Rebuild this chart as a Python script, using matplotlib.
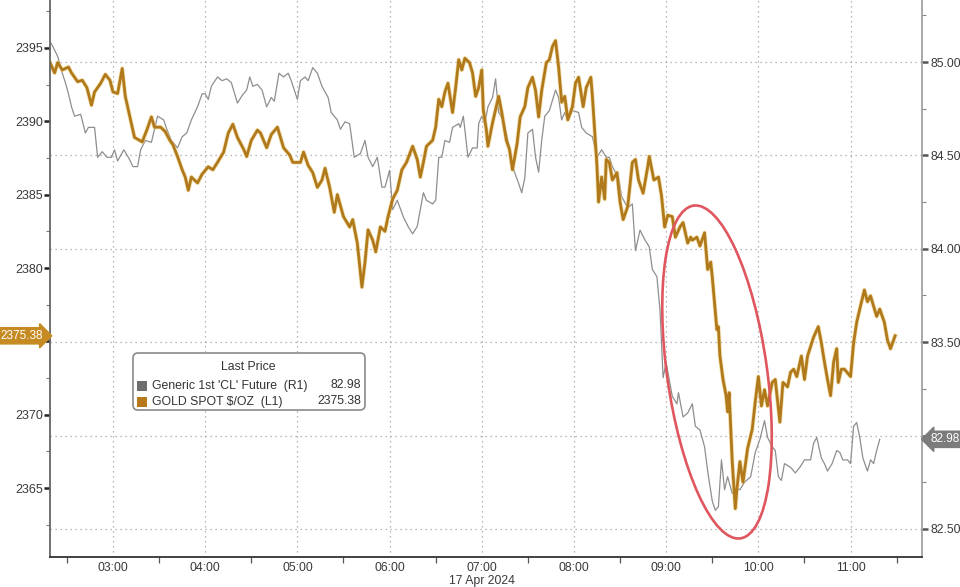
import matplotlib
matplotlib.use("Agg")
import matplotlib.pyplot as plt
import matplotlib.dates as mdates
import matplotlib.patheffects as pe
from matplotlib.patches import Ellipse, Rectangle, FancyBboxPatch
import pandas as pd

DAY = "2024-04-17 "

gold_times = [
    "02:19", "02:22", "02:24", "02:27", "02:31", "02:33", "02:37", "02:40", "02:43", "02:46",
    "02:48", "02:52", "02:55", "02:58", "03:00", "03:03", "03:06", "03:08", "03:11", "03:14",
    "03:19", "03:22", "03:25", "03:27", "03:31", "03:34", "03:37", "03:39", "03:42", "03:45",
    "03:47", "03:49", "03:51", "03:55", "03:58", "04:02", "04:05", "04:08", "04:12", "04:15",
    "04:18", "04:21", "04:25", "04:27", "04:30", "04:34", "04:36",
    "04:40", "04:43", "04:47", "04:51", "04:55", "04:57", "05:02", "05:04", "05:07", "05:10",
    "05:13", "05:16", "05:18", "05:21", "05:24", "05:26", "05:30", "05:34", "05:36", "05:39",
    "05:42", "05:44", "05:46", "05:49", "05:51", "05:54", "05:57", "05:59", "06:02", "06:05",
    "06:08", "06:11", "06:15", "06:18", "06:20", "06:22", "06:24", "06:28", "06:30", "06:32",
    "06:34", "06:36", "06:38", "06:41", "06:43", "06:45", "06:47", "06:49", "06:52", "06:54",
    "06:56", "06:58", "07:00", "07:01", "07:03", "07:04", "07:07", "07:09", "07:11", "07:13",
    "07:16", "07:18", "07:20", "07:23", "07:25", "07:28", "07:30", "07:33", "07:35", "07:37",
    "07:39", "07:42", "07:44", "07:46", "07:48", "07:50", "07:52", "07:54", "07:56", "07:59",
    "08:01", "08:03", "08:06", "08:08", "08:11", "08:12", "08:15", "08:16", "08:18", "08:20",
    "08:21", "08:23", "08:25", "08:28", "08:30", "08:32", "08:35", "08:38", "08:40", "08:42",
    "08:45", "08:48", "08:49", "08:52", "08:55", "08:57", "08:59", "09:01", "09:04", "09:06",
    "09:09", "09:11", "09:14", "09:16", "09:17", "09:20", "09:22", "09:25", "09:27", "09:29",
    "09:30", "09:33", "09:34", "09:35", "09:37", "09:39", "09:40", "09:41", "09:43", "09:45",
    "09:46", "09:48", "09:50", "09:53", "09:56", "09:58", "10:00", "10:02", "10:04", "10:06",
    "10:09", "10:11", "10:14", "10:16", "10:19", "10:21", "10:23", "10:25", "10:28", "10:30",
    "10:32", "10:36", "10:39", "10:41", "10:43", "10:45", "10:47", "10:49", "10:51", "10:52",
    "10:54", "10:56", "11:00", "11:02", "11:04", "11:06", "11:09", "11:11", "11:13", "11:15",
    "11:17", "11:19", "11:22", "11:24", "11:26", "11:28", "11:29",
]
gold_values = [
    2394.0, 2393.3, 2394.0, 2393.5, 2393.7, 2393.3, 2392.7, 2392.8, 2392.3, 2391.1,
    2392.0, 2392.6, 2393.2, 2392.8, 2392.0, 2391.9, 2393.6, 2391.7, 2390.3, 2388.9,
    2388.6, 2389.4, 2390.3, 2389.6, 2389.6, 2389.3, 2388.7, 2388.4, 2387.6, 2386.7,
    2386.2, 2385.3, 2386.2, 2385.8, 2386.4, 2386.9, 2386.7, 2387.2, 2387.9, 2389.2,
    2389.8, 2388.9, 2388.1, 2387.6, 2388.7, 2389.4, 2389.2,
    2388.2, 2389.1, 2389.6, 2388.2, 2387.7, 2387.2, 2387.2, 2387.9, 2387.0, 2386.5,
    2385.5, 2386.0, 2386.8, 2385.5, 2383.8, 2385.0, 2383.5, 2382.8, 2383.3, 2381.7,
    2378.7, 2380.4, 2382.6, 2381.9, 2381.1, 2382.8, 2382.5, 2383.5, 2384.7, 2385.3,
    2386.7, 2387.2, 2388.3, 2387.4, 2386.2, 2387.2, 2388.3, 2388.7, 2389.6, 2391.5,
    2391.0, 2392.0, 2392.6, 2390.6, 2392.3, 2394.2, 2393.5, 2394.3, 2394.0, 2393.3,
    2391.7, 2392.3, 2393.5, 2390.8, 2389.4, 2388.3, 2389.9, 2390.8, 2391.7, 2390.6,
    2388.7, 2388.1, 2386.7, 2388.5, 2390.3, 2391.0, 2392.3, 2393.0, 2392.1, 2390.3,
    2392.1, 2394.0, 2394.2, 2395.1, 2395.5, 2393.7, 2391.3, 2391.7, 2390.1, 2391.0,
    2392.6, 2393.0, 2391.0, 2392.3, 2393.0, 2391.7, 2386.9, 2384.5, 2386.2, 2384.7,
    2387.4, 2387.2, 2386.0, 2386.5, 2384.5, 2383.3, 2384.2, 2387.2, 2387.4, 2386.0,
    2385.1, 2386.9, 2387.6, 2386.0, 2386.2, 2384.9, 2382.8, 2383.6, 2383.5, 2382.1,
    2382.8, 2383.1, 2381.7, 2382.1, 2381.9, 2382.1, 2381.5, 2382.4, 2379.9, 2380.4,
    2379.4, 2375.8, 2376.0, 2374.0, 2372.4, 2371.3, 2370.2, 2371.5, 2366.8, 2363.6,
    2364.9, 2366.8, 2365.4, 2367.7, 2369.0, 2370.9, 2372.6, 2370.6, 2371.7, 2370.6,
    2372.2, 2372.4, 2369.5, 2372.2, 2371.9, 2372.9, 2373.1, 2372.6, 2374.0, 2372.4,
    2374.0, 2375.3, 2376.0, 2374.9, 2373.6, 2372.4, 2371.3, 2373.6, 2374.5, 2372.2,
    2373.1, 2373.1, 2372.6, 2374.9, 2376.3, 2377.2, 2378.5, 2377.7, 2378.1, 2377.4,
    2376.7, 2377.2, 2376.3, 2375.1, 2374.5, 2375.1, 2375.38,
]

oil_times = [
    "02:19", "02:21", "02:24", "02:27", "02:29", "02:31", "02:33", "02:35", "02:39", "02:42",
    "02:44", "02:48", "02:50", "02:53", "02:56", "02:59", "03:01", "03:03", "03:07", "03:10",
    "03:13", "03:16", "03:18", "03:21", "03:25", "03:29", "03:33", "03:35", "03:38", "03:42",
    "03:45", "03:48", "03:51", "03:55", "03:58", "04:00", "04:02", "04:04", "04:08", "04:11",
    "04:14", "04:17", "04:21", "04:24", "04:27", "04:29", "04:31", "04:34", "04:37", "04:40",
    "04:43", "04:45", "04:48", "04:51", "04:54", "04:56", "05:00", "05:02", "05:05", "05:07",
    "05:10", "05:13", "05:16", "05:20", "05:22", "05:26", "05:28", "05:31", "05:34", "05:37",
    "05:41", "05:44", "05:46", "05:49", "05:52", "05:55", "05:57", "06:00", "06:02", "06:05",
    "06:09", "06:12", "06:15", "06:18", "06:20", "06:22", "06:24", "06:28", "06:30", "06:32",
    "06:34", "06:36", "06:39", "06:41", "06:45", "06:46", "06:48", "06:51", "06:54", "06:57",
    "06:58", "07:00", "07:02", "07:04", "07:07", "07:09", "07:11", "07:14", "07:17", "07:20",
    "07:24", "07:26", "07:28", "07:30", "07:33", "07:35", "07:37", "07:39", "07:41", "07:44",
    "07:48", "07:50", "07:52", "07:54", "07:56", "07:59", "08:03", "08:05", "08:08", "08:12",
    "08:15", "08:18", "08:21", "08:23", "08:25", "08:29", "08:31", "08:35", "08:38", "08:40",
    "08:43", "08:46", "08:49", "08:51", "08:54", "08:56", "08:58", "09:00", "09:04", "09:07",
    "09:08", "09:11", "09:14", "09:17", "09:19", "09:22", "09:25", "09:27", "09:30", "09:32",
    "09:34", "09:36", "09:38", "09:40", "09:43", "09:46", "09:48", "09:51", "09:55", "09:58",
    "10:01", "10:04", "10:06", "10:09", "10:11", "10:13", "10:15", "10:17", "10:21", "10:24",
    "10:27", "10:30", "10:34", "10:36", "10:38", "10:41", "10:43", "10:45", "10:48", "10:51",
    "10:53", "10:55", "10:58", "11:00", "11:02", "11:04", "11:06", "11:08", "11:11", "11:13",
    "11:15", "11:17", "11:19",
]
oil_values = [
    85.11, 85.08, 85.03, 84.94, 84.89, 84.83, 84.76, 84.71, 84.72, 84.62,
    84.65, 84.65, 84.49, 84.52, 84.49, 84.49, 84.53, 84.47, 84.53, 84.49,
    84.44, 84.44, 84.53, 84.58, 84.57, 84.71, 84.69, 84.64, 84.58, 84.54,
    84.60, 84.62, 84.69, 84.76, 84.83, 84.83, 84.80, 84.87, 84.92, 84.90,
    84.91, 84.89, 84.78, 84.82, 84.85, 84.92, 84.87, 84.88, 84.85, 84.76,
    84.81, 84.79, 84.94, 84.92, 84.94, 84.90, 84.80, 84.90, 84.92, 84.90,
    84.97, 84.94, 84.87, 84.81, 84.73, 84.69, 84.64, 84.68, 84.67, 84.49,
    84.51, 84.58, 84.49, 84.44, 84.49, 84.33, 84.33, 84.42, 84.21, 84.26,
    84.17, 84.12, 84.08, 84.12, 84.21, 84.30, 84.26, 84.24, 84.26, 84.49,
    84.49, 84.58, 84.57, 84.65, 84.67, 84.65, 84.71, 84.49, 84.54, 84.54,
    84.67, 84.71, 84.67, 84.76, 84.81, 84.91, 84.73, 84.69, 84.58, 84.44,
    84.35, 84.30, 84.38, 84.62, 84.64, 84.49, 84.41, 84.58, 84.71, 84.74,
    84.85, 84.81, 84.69, 84.73, 84.69, 84.74, 84.73, 84.65, 84.62, 84.60,
    84.49, 84.53, 84.49, 84.49, 84.44, 84.38, 84.28, 84.22, 84.24, 83.99,
    84.10, 84.05, 84.01, 83.89, 83.85, 83.67, 83.31, 83.39, 83.21, 83.17,
    83.23, 83.10, 83.12, 83.17, 83.05, 83.03, 82.94, 82.81, 82.65, 82.60,
    82.62, 82.87, 82.71, 82.78, 82.69, 82.72, 82.71, 82.75, 82.78, 82.91,
    82.98, 83.08, 82.99, 82.94, 82.92, 82.78, 82.76, 82.85, 82.83, 82.80,
    82.83, 82.87, 82.87, 82.96, 82.99, 82.88, 82.85, 82.81, 82.85, 82.92,
    82.91, 82.87, 82.87, 82.85, 83.05, 83.07, 82.99, 82.88, 82.81, 82.87,
    82.85, 82.92, 82.98,
]

left_ticks = [2365, 2370, 2375, 2380, 2385, 2390, 2395]
left_minor = [2362.5, 2367.5, 2372.5, 2377.5, 2382.5, 2387.5, 2392.5, 2397.5]
right_ticks = [82.50, 83.00, 83.50, 84.00, 84.50, 85.00]
right_minor = [82.75, 83.25, 83.75, 84.25, 84.75, 85.25]
hour_ticks = ["03:00", "04:00", "05:00", "06:00", "07:00", "08:00", "09:00", "10:00", "11:00"]
half_ticks = ["02:30", "03:30", "04:30", "05:30", "06:30", "07:30", "08:30", "09:30", "10:30", "11:30"]

oil_name = "Generic 1st 'CL' Future  (R1)"
gold_name = "GOLD SPOT $/OZ  (L1)"
oil_last = "82.98"
gold_last = "2375.38"
date_label = "17 Apr 2024"

GOLD = "#B07A1C"
GREY = "#8E8E8E"
FONT = "Liberation Sans"

plt.rcParams["font.family"] = [FONT, "DejaVu Sans"]

gt = pd.to_datetime([DAY + t for t in gold_times])
ot = pd.to_datetime([DAY + t for t in oil_times])
ht = pd.to_datetime([DAY + t for t in hour_ticks])
mt = pd.to_datetime([DAY + t for t in half_ticks])

fig = plt.figure(figsize=(9.6, 5.87), dpi=100)
ax = fig.add_axes([50 / 960, 30 / 587, 872 / 960, 557 / 587])
ax2 = ax.twinx()
ax.set_zorder(ax2.get_zorder() + 1)
ax.patch.set_visible(False)

ax2.plot(ot, oil_values, color=GREY, lw=0.9, solid_joinstyle="round")
ax.plot(gt, gold_values, color=GOLD, lw=2.0, solid_joinstyle="round",
        path_effects=[pe.Stroke(linewidth=3.1, foreground="#EAC56A", alpha=0.55), pe.Normal()])

ax.set_xlim(pd.Timestamp(DAY + "02:19"), pd.Timestamp(DAY + "11:46:30"))
ax.set_ylim(2360.3, 2398.27)
ax2.set_ylim(82.35, 85.332)

# x axis
ax.set_xticks(ht)
ax.set_xticks(mt, minor=True)
ax.xaxis.set_major_formatter(mdates.DateFormatter("%H:%M"))
ax.tick_params(axis="x", which="major", length=0, pad=3.5, labelsize=8.8, labelcolor="#3a3a3a")
ax.tick_params(axis="x", which="minor", length=4, width=0.9, color="#555555")
ax.grid(axis="x", which="major", color="#a0a0a0", linestyle=(0, (1, 3)), lw=0.9)

# left axis (the 2375 label sits under the last-price tag, as in the source)
ax.set_yticks(left_ticks)
ax.set_yticks(left_minor, minor=True)
ax.set_yticklabels(["" if v == 2375 else str(v) for v in left_ticks])
ax.tick_params(axis="y", which="major", length=4, width=1.8, color="#222222", pad=1,
               labelsize=9, labelcolor="#3a3a3a")
ax.tick_params(axis="y", which="minor", length=3, width=0.8, color="#777777")

# right axis (83.00 label sits under the last-price tag)
ax2.set_yticks(right_ticks)
ax2.set_yticks(right_minor, minor=True)
ax2.set_yticklabels(["" if v == 83.00 else f"{v:.2f}" for v in right_ticks])
ax2.tick_params(axis="y", which="major", length=4, width=1.8, color="#555555", pad=2,
                labelsize=8.8, labelcolor="#3a3a3a")
ax2.tick_params(axis="y", which="minor", length=3, width=0.8, color="#888888")
ax2.grid(axis="y", which="major", color="#a0a0a0", linestyle=(0, (1, 3)), lw=0.9)

for s in ("top", "right"):
    ax.spines[s].set_visible(False)
for s in ("top", "left", "bottom"):
    ax2.spines[s].set_visible(False)
ax.spines["left"].set_color("#666666")
ax.spines["left"].set_linewidth(1.3)
ax.spines["bottom"].set_color("#333333")
ax.spines["bottom"].set_linewidth(1.3)
ax2.spines["right"].set_color("#9a9a9a")
ax2.spines["right"].set_linewidth(1.2)

# date label
ax.text(pd.Timestamp(DAY + "07:00"), -0.0485, date_label, transform=ax.get_xaxis_transform(),
        ha="center", va="baseline", fontsize=8.8, color="#3a3a3a")

# last price tags
ax.annotate(gold_last, xy=(0, gold_values[-1]), xycoords=("axes fraction", "data"),
            xytext=(-5, 0), textcoords="offset points", ha="right", va="center",
            fontsize=8.5, color="white", zorder=20, annotation_clip=False,
            bbox=dict(boxstyle="rarrow,pad=0.18", fc="#C68A22", ec="#C68A22"))
ax2.annotate(oil_last, xy=(1, oil_values[-1]), xycoords=("axes fraction", "data"),
             xytext=(6, 0), textcoords="offset points", ha="left", va="center",
             fontsize=8.5, color="white", zorder=20, annotation_clip=False,
             bbox=dict(boxstyle="larrow,pad=0.18", fc="#7c7c7c", ec="#7c7c7c"))

# legend box (built by hand, Bloomberg style)
tr = fig.dpi_scale_trans
fig.add_artist(FancyBboxPatch((1.33, 1.77), 2.32, 0.57, boxstyle="round,pad=0,rounding_size=0.05",
                              transform=tr, fc="white", ec="#8a8a8a", lw=1.2, zorder=30))
fig.text(2.48, 2.20, "Last Price", transform=tr, ha="center", va="center", fontsize=8.8,
         color="#333333", zorder=31)
fig.add_artist(Rectangle((1.37, 1.965), 0.10, 0.10, transform=tr, fc="#6e6e6e", ec="none", zorder=31))
fig.add_artist(Rectangle((1.37, 1.805), 0.10, 0.10, transform=tr, fc="#B8791A", ec="none", zorder=31))
fig.text(1.52, 2.015, oil_name, transform=tr, ha="left", va="center", fontsize=8.8,
         color="#333333", zorder=31)
fig.text(1.52, 1.855, gold_name, transform=tr, ha="left", va="center", fontsize=8.8,
         color="#333333", zorder=31)
fig.text(3.61, 2.015, oil_last, transform=tr, ha="right", va="center", fontsize=8.8,
         color="#333333", zorder=31)
fig.text(3.61, 1.855, gold_last, transform=tr, ha="right", va="center", fontsize=8.8,
         color="#333333", zorder=31)

# red highlight ellipse
fig.add_artist(Ellipse((7.17, 2.15), width=1.0, height=3.36, angle=8, transform=tr,
                       fill=False, ec="#E0565F", lw=1.9, zorder=25))

fig.savefig("out.png", dpi=100)
